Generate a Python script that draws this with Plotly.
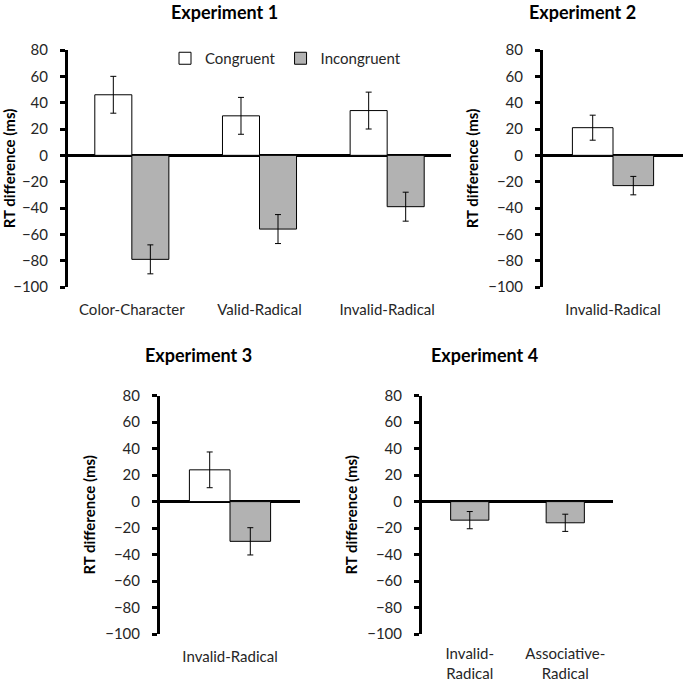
import plotly.graph_objects as go

# values (RT difference, ms)
exp1_categories = ["Color-Character", "Valid-Radical", "Invalid-Radical"]
exp1_congruent = [46, 30, 34]
exp1_congruent_err = [14, 14, 14]
exp1_incongruent = [-79, -56, -39]
exp1_incongruent_err = [11, 11, 11]

exp2_categories = ["Invalid-Radical"]
exp2_congruent = [21]
exp2_congruent_err = [9.5]
exp2_incongruent = [-23]
exp2_incongruent_err = [7]

exp3_categories = ["Invalid-Radical"]
exp3_congruent = [24]
exp3_congruent_err = [13.5]
exp3_incongruent = [-30]
exp3_incongruent_err = [10.3]

exp4_categories = ["Invalid-<br>Radical", "Associative-<br>Radical"]
exp4_incongruent = [-14, -16]
exp4_incongruent_err = [6.5, 6.5]

titles = ["Experiment 1", "Experiment 2", "Experiment 3", "Experiment 4"]

W, H = 685, 682
FONT = "Lato"
GREY = "#b2b2b2"


def px_x(a, b):
    return [a / W, b / W]


def px_y(top, bottom):
    return [1 - bottom / H, 1 - top / H]


panels = [
    # (xaxis, yaxis, x domain, y domain, n categories, label standoff)
    ("x", "y", px_x(68, 451), px_y(50, 287), 3, 12),
    ("x2", "y2", px_x(543, 683), px_y(50, 287), 1, 12),
    ("x3", "y3", px_x(160, 300), px_y(395.7, 634), 1, 12),
    ("x4", "y4", px_x(422, 613), px_y(395.7, 634), 2, 9),
]

fig = go.Figure()


def add_bar(xa, ya, cats, vals, errs, name, color, offset, width, show):
    fig.add_trace(
        go.Bar(
            x=cats,
            y=vals,
            name=name,
            marker=dict(color=color, line=dict(color="black", width=1)),
            error_y=dict(type="data", array=errs, color="black", thickness=1, width=3),
            offset=offset,
            width=width,
            xaxis=xa,
            yaxis=ya,
            showlegend=show,
            legendgroup=name,
        )
    )


bw = 0.29
add_bar("x", "y", exp1_categories, exp1_congruent, exp1_congruent_err, "Congruent", "white", -bw, bw, True)
add_bar("x", "y", exp1_categories, exp1_incongruent, exp1_incongruent_err, "Incongruent", GREY, 0, bw, True)
add_bar("x2", "y2", exp2_categories, exp2_congruent, exp2_congruent_err, "Congruent", "white", -bw, bw, False)
add_bar("x2", "y2", exp2_categories, exp2_incongruent, exp2_incongruent_err, "Incongruent", GREY, 0, bw, False)
add_bar("x3", "y3", exp3_categories, exp3_congruent, exp3_congruent_err, "Congruent", "white", -bw, bw, False)
add_bar("x3", "y3", exp3_categories, exp3_incongruent, exp3_incongruent_err, "Incongruent", GREY, 0, bw, False)
add_bar("x4", "y4", exp4_categories, exp4_incongruent, exp4_incongruent_err, "Incongruent", GREY, -0.2, 0.4, False)

layout = dict(
    width=W,
    height=H,
    margin=dict(l=0, r=0, t=0, b=0, autoexpand=False),
    paper_bgcolor="white",
    plot_bgcolor="white",
    barmode="overlay",
    font=dict(family=FONT, size=15, color="#262626"),
    legend=dict(
        orientation="h",
        x=165 / W,
        y=1 - 42 / H,
        xanchor="left",
        yanchor="top",
        bgcolor="rgba(0,0,0,0)",
        font=dict(size=15),
        itemwidth=30,
        traceorder="normal",
    ),
    annotations=[],
)

title_pos = [(224, 12), (582, 12), (198, 355), (484, 355)]
for t, (cx, cy) in zip(titles, title_pos):
    layout["annotations"].append(
        dict(
            text="<b>%s</b>" % t,
            x=cx / W,
            y=1 - cy / H,
            xref="paper",
            yref="paper",
            xanchor="center",
            yanchor="middle",
            showarrow=False,
            font=dict(size=18, color="black"),
        )
    )

for i, (xa, ya, xd, yd, n, standoff) in enumerate(panels):
    xkey = "xaxis" if i == 0 else "xaxis%d" % (i + 1)
    ykey = "yaxis" if i == 0 else "yaxis%d" % (i + 1)
    layout[xkey] = dict(
        domain=xd,
        anchor=ya,
        type="category",
        range=[-0.5, n - 0.5],
        automargin=False,
        showline=False,
        showgrid=False,
        zeroline=False,
        ticks="",
        ticklabelstandoff=standoff,
        fixedrange=True,
    )
    layout[ykey] = dict(
        domain=yd,
        anchor=xa,
        range=[-100, 80],
        dtick=20,
        tick0=0,
        automargin=False,
        showline=True,
        linewidth=3,
        linecolor="black",
        ticks="outside",
        ticklen=5,
        tickwidth=2.5,
        tickcolor="black",
        ticklabelstandoff=9,
        showgrid=False,
        zeroline=True,
        zerolinewidth=3,
        zerolinecolor="black",
        title=dict(text="<b>RT difference (ms)</b>", font=dict(size=15, color="black"), standoff=6),
        fixedrange=True,
    )

fig.update_layout(**layout)
# the page body has a default 8px margin; drop it so the figure sits at the window corner
fig.write_html(
    "out.html",
    config={"displayModeBar": False},
    post_script="document.body.style.margin='0px';",
)
